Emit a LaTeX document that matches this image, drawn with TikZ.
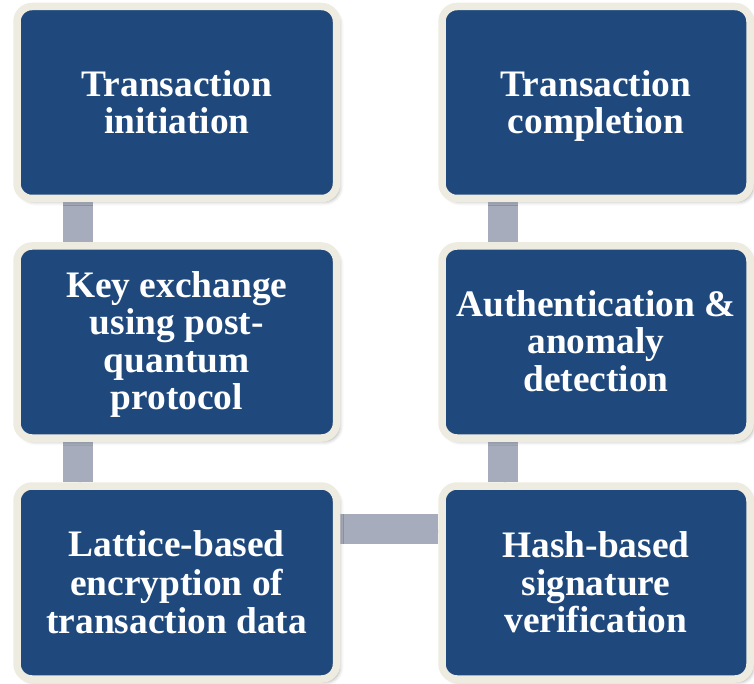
\documentclass[tikz,border=0pt]{standalone}
\usepackage{fontspec}
\setmainfont{Liberation Serif}
\usetikzlibrary{shadows.blur,backgrounds}

\definecolor{boxblue}{RGB}{31,73,125}
\definecolor{boxrim}{RGB}{238,236,225}
\definecolor{linkgray}{RGB}{166,172,187}

\tikzset{
  stagebox/.style={
    rectangle, rounded corners=15pt, fill=boxblue, draw=boxrim,
    line width=7.5pt, inner sep=0pt,
    blur shadow={shadow xshift=3pt, shadow yshift=-3pt,
                 shadow blur radius=4pt, shadow opacity=35}},
  stagetext/.style={
    text=white, align=center, inner sep=0pt,
    font=\fontsize{37.4}{37.5}\selectfont\bfseries},
  link/.style={line width=30pt, draw=linkgray,
    blur shadow={shadow xshift=2pt, shadow yshift=-2pt,
                 shadow blur radius=2pt, shadow opacity=30}}
}

\begin{document}
\begin{tikzpicture}[x=1pt, y=-1pt]
  \useasboundingbox (0,0) rectangle (754,684);

  % left column
  \node[stagebox, minimum width=319.5pt, minimum height=192pt] (init) at (176.75,102.5) {};
  \node[stagebox, minimum width=319.5pt, minimum height=192pt] (kex)  at (176.75,342) {};
  \node[stagebox, minimum width=319.5pt, minimum height=193pt] (enc)  at (176.75,582.5) {};

  % right column
  \node[stagebox, minimum width=308pt, minimum height=192pt] (done) at (596,102.5) {};
  \node[stagebox, minimum width=308pt, minimum height=192pt] (auth) at (596,342) {};
  \node[stagebox, minimum width=308pt, minimum height=193pt] (hash) at (596,582.5) {};

  % box captions
  \node[stagetext] (initT) at ([yshift=-5pt]init.center) {\strut Transaction\\initiation\strut};
  \node[stagetext] (kexT)  at ([yshift=-4pt]kex.center)  {\strut Key exchange\\using post-\\quantum\\protocol\strut};
  \node[stagetext] (encT)  at ([yshift=-5pt]enc.center)  {\strut Lattice-based\\encryption of\\transaction data\strut};
  \node[stagetext] (doneT) at ([yshift=-5pt]done.center) {\strut Transaction\\completion\strut};
  \node[stagetext] (authT) at ([yshift=-4pt]auth.center) {\strut Authentication \&\\anomaly\\detection\strut};
  \node[stagetext] (hashT) at ([yshift=-5pt]hash.center) {\strut Hash-based\\signature\\verification\strut};

  % connecting bars behind the boxes
  \begin{pgfonlayer}{background}
    \draw[link] ([xshift=65pt]init.south west) -- ([xshift=65pt]kex.north west);
    \draw[link] ([xshift=65pt]kex.south west) -- ([xshift=65pt]enc.north west);
    \draw[link] ([yshift=-47pt]enc.north east) -- ([yshift=-47pt]hash.north west);
    \draw[link] ([xshift=64.5pt]hash.north west) -- ([xshift=64.5pt]auth.south west);
    \draw[link] ([xshift=64.5pt]auth.north west) -- ([xshift=64.5pt]done.south west);
  \end{pgfonlayer}
\end{tikzpicture}
\end{document}
